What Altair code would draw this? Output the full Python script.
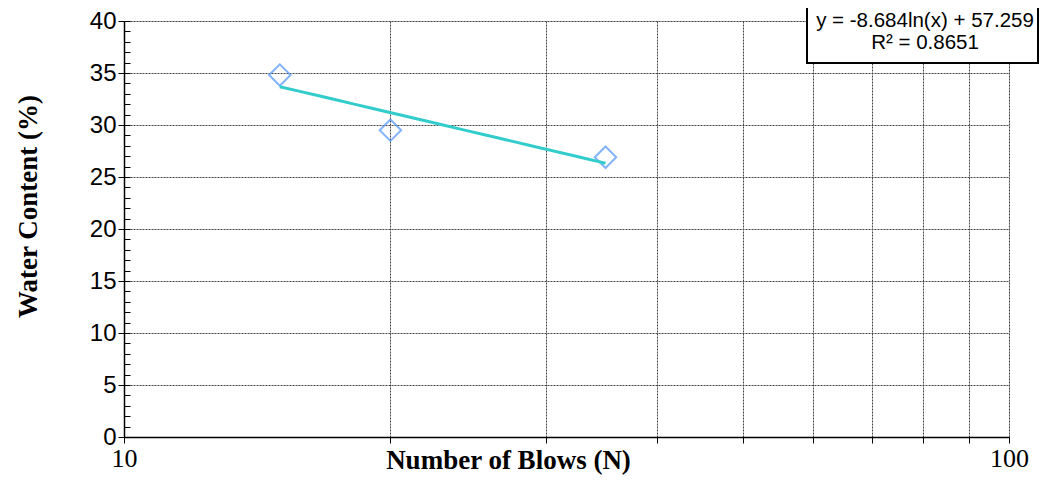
import altair as alt
import pandas as pd

# Data
blows = [15, 20, 35]
water = [34.8, 29.5, 26.9]

x_ticks = [10, 20, 30, 40, 50, 60, 70, 80, 90, 100]
y_major = [0, 5, 10, 15, 20, 25, 30, 35, 40]
y_minor = list(range(0, 41))

eq_lines = ["y = -8.684ln(x)  + 57.259", "R² = 0.8651"]

df = pd.DataFrame({"blows": blows, "water": water})
eq_df = pd.DataFrame({"line": eq_lines, "row": [0, 1]})

SANS = "Liberation Sans"
SERIF = "Liberation Serif"

xscale = alt.Scale(type="log", domain=[10, 100], nice=False)
yscale = alt.Scale(domain=[0, 40], nice=False, zero=False)

x_axis = alt.Axis(
    values=x_ticks,
    labelExpr="datum.value == 10 || datum.value == 100 ? datum.label : ''",
    format="d",
    grid=True, gridColor="#444", gridDash=[2, 1], gridWidth=1,
    domainColor="black", domainWidth=1.5,
    tickColor="black", tickSize=6, tickWidth=1,
    labelFont=SERIF, labelFontSize=26, labelColor="black", labelPadding=2,
    labelFlush=False,
    title="Number of Blows (N)", titleFont=SERIF, titleFontSize=27,
    titleFontWeight="bold", titleColor="black",
    titleX=384, titleY=23, titleBaseline="middle", titleAlign="center",
)

y_axis = alt.Axis(
    values=y_major,
    grid=True, gridColor="#444", gridDash=[2, 1], gridWidth=1,
    domainColor="black", domainWidth=1.5,
    tickColor="black", tickSize=6, tickWidth=1,
    labelFont=SANS, labelFontSize=24, labelColor="black", labelPadding=2,
    labelFlush=False,
    title="Water Content (%)", titleFont=SERIF, titleFontSize=27,
    titleFontWeight="bold", titleColor="black",
    titleX=-96, titleY=185, titleBaseline="middle", titleAlign="center", titleAngle=-90,
    orient="left",
)

y_minor_axis = alt.Axis(
    values=y_minor, orient="left", offset=-6,
    grid=False, domain=False, labels=False, title=None,
    tickColor="black", tickSize=6, tickWidth=1,
)

points = alt.Chart(df).mark_point(
    shape="diamond", filled=False, size=460, strokeWidth=2, color="#4F94F7"
).encode(
    x=alt.X("blows:Q", scale=xscale, axis=x_axis),
    y=alt.Y("water:Q", scale=yscale, axis=y_axis),
)

trend = alt.Chart(df).transform_regression(
    "blows", "water", method="log"
).mark_line(color="#33CCCC", strokeWidth=3).encode(
    x=alt.X("blows:Q", scale=xscale, axis=x_axis),
    y=alt.Y("water:Q", scale=yscale, axis=y_minor_axis),
)

box = alt.Chart(eq_df.iloc[:1]).mark_rect(
    fill="white", stroke="black", strokeWidth=2
).encode(
    x=alt.value(683), x2=alt.value(914), y=alt.value(-16), y2=alt.value(42)
)

eq_text = alt.Chart(eq_df).mark_text(
    font=SANS, fontSize=20.5, color="black", align="center", baseline="middle"
).encode(
    x=alt.value(801),
    y=alt.Y("row:Q", scale=alt.Scale(domain=[0, 1], range=[0, 22]), axis=None),
    text="line:N",
)

chart = alt.layer(points, trend, box, eq_text).resolve_axis(
    y="independent"
).resolve_scale(y="independent").properties(
    width=885, height=416,
    autosize=alt.AutoSizeParams(type="none"),
    padding={"left": 116, "top": 13, "right": 30, "bottom": 41},
).configure_view(stroke=None).configure(background="white")

chart.save("out.html", embed_options={"renderer": "svg", "actions": False})
